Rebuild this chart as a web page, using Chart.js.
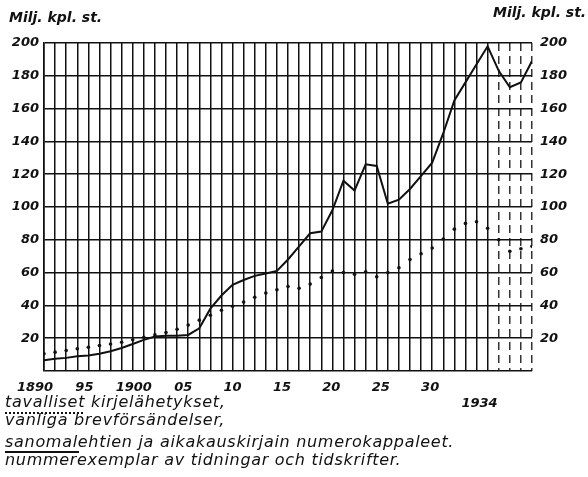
<!DOCTYPE html>
<html>
<head>
<meta charset="utf-8">
<script src="https://cdn.jsdelivr.net/npm/chart.js@4/dist/chart.umd.min.js"></script>
<style>
  body { margin: 0; background: #fff; }
  #wrap { position: relative; width: 588px; height: 477px; }
  .t { position: absolute; font-family: "DejaVu Sans"; font-style: italic; color: #111; white-space: nowrap; }
  .unit { font-size: 14px; font-weight: bold; }
  .leg { font-size: 16px; letter-spacing: 0.7px; left: 5px; }
</style>
</head>
<body>
<div id="wrap">
  <canvas id="chart" width="588" height="477"></canvas>
  <div class="t unit" style="left:9px;top:9px">Milj. kpl. st.</div>
  <div class="t unit" style="left:493px;top:4px">Milj. kpl. st.</div>
  <div class="t leg" style="top:392px">tavalliset kirjelähetykset,</div>
  <div style="position:absolute;left:5px;top:412px;width:78px;border-top:2px dotted #111"></div>
  <div class="t leg" style="top:410px">vanliga brevförsändelser,</div>
  <div class="t leg" style="top:432px">sanomalehtien ja aikakauskirjain numerokappaleet.</div>
  <div style="position:absolute;left:5px;top:451px;width:74px;height:1.5px;background:#111"></div>
  <div class="t leg" style="top:450px">nummerexemplar av tidningar och tidskrifter.</div>
</div>
<script>
// years 1890 - 1934
const years = Array.from({ length: 45 }, (_, i) => 1890 + i);

// sanomalehtien ja aikakauskirjain numerokappaleet (solid line), milj. kpl
const newspapers = [
  6.5, 7.5, 8, 9, 9.5, 10.5, 12, 14, 16.5, 19,
  21, 21.5, 21.5, 22, 26, 38, 46, 52.5, 55.5, 58,
  59.5, 61, 68, 76, 84, 85, 98, 116, 110, 126,
  125, 102, 104.5, 111, 119, 127, 145, 165, 176, 187,
  198, 183, 173, 176, 189
];

// tavalliset kirjelähetykset (dotted line), milj. kpl
const letters = [
  10.5, 11.5, 12.5, 13.5, 14.5, 15.5, 16.5, 17.5, 19, 20.5,
  22, 23.5, 25.5, 28, 31, 34, 37, 39.5, 42, 45,
  47.5, 49.5, 51.5, 50.5, 53, 57, 61, 60, 59, 60.5,
  57.5, 60, 63, 68, 71.5, 75, 80.5, 86.5, 90, 91,
  87, 80, 73, 74.5, 76
];

const xTickLabels = ['1890', '95', '1900', '05', '10', '15', '20', '25', '30', '1934'];
const yTicks = [20, 40, 60, 80, 100, 120, 140, 160, 180, 200];

const ink = '#111';
const tickFont = { family: 'DejaVu Sans', style: 'italic', weight: 'bold', size: 13 };

const toPoints = vals => vals.map((v, i) => ({ x: years[i], y: v }));

new Chart(document.getElementById('chart'), {
  type: 'line',
  data: {
    datasets: [
      {
        label: 'sanomalehtien ja aikakauskirjain numerokappaleet',
        data: toPoints(newspapers),
        borderColor: ink,
        borderWidth: 2,
        pointRadius: 0,
        tension: 0
      },
      {
        label: 'tavalliset kirjelähetykset',
        data: toPoints(letters),
        showLine: false,
        pointRadius: 1.8,
        pointBorderWidth: 0,
        pointBackgroundColor: ink
      }
    ]
  },
  options: {
    responsive: false,
    animation: false,
    layout: { padding: { top: 43, left: 0, right: 0, bottom: 0 } },
    plugins: { legend: { display: false }, tooltip: { enabled: false } },
    scales: {
      x: {
        type: 'linear',
        position: 'bottom',
        min: 1890,
        max: 1934,
        ticks: { display: false, stepSize: 1, autoSkip: false },
        grid: {
          color: ctx => (ctx.tick && ctx.tick.value > 1930 ? '#333' : ink),
          lineWidth: 1.5,
          drawTicks: false
        },
        border: {
          display: false,
          dash: ctx => (ctx.tick && ctx.tick.value > 1930 ? [8, 5] : [])
        },
        afterFit: s => { s.height = 0; }
      },
      xl: {
        type: 'linear',
        position: 'bottom',
        min: 1890,
        max: 1939.4,
        grid: { display: false, drawTicks: false },
        border: { display: false },
        ticks: {
          stepSize: 5,
          includeBounds: false,
          autoSkip: false,
          maxRotation: 0,
          labelOffset: -9,
          padding: 9,
          color: ink,
          font: tickFont,
          callback: v => {
            const i = (v - 1890) / 5;
            if (!Number.isInteger(i) || i >= xTickLabels.length) return '';
            return i === xTickLabels.length - 1 ? ['', xTickLabels[i]] : xTickLabels[i];
          }
        },
        afterFit: s => { s.height = 106; }
      },
      y: {
        position: 'left',
        min: 0,
        max: 200,
        ticks: {
          stepSize: 20,
          padding: 5,
          color: ink,
          font: tickFont,
          callback: v => (yTicks.includes(v) ? String(v) : '')
        },
        grid: { color: ink, lineWidth: 1.6, drawTicks: false },
        border: { color: ink, width: 1.6 },
        afterFit: s => { s.width = 44; }
      },
      y2: {
        position: 'right',
        min: 0,
        max: 200,
        ticks: {
          stepSize: 20,
          padding: 8,
          color: ink,
          font: tickFont,
          callback: v => (yTicks.includes(v) ? String(v) : '')
        },
        grid: { display: false, drawTicks: false },
        border: { display: false },
        afterFit: s => { s.width = 56; }
      }
    }
  }
});
</script>
</body>
</html>
